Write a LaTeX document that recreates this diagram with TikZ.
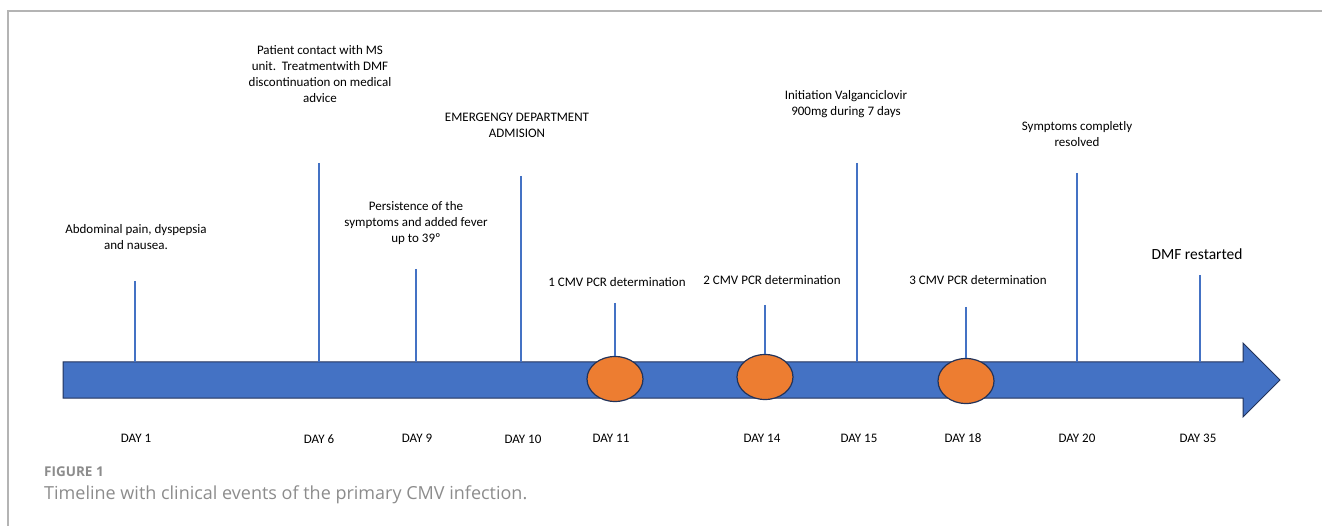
\documentclass[tikz,border=0pt]{standalone}
\usepackage{fontspec}
\setmainfont{Carlito}
\newfontfamily\capfont{Open Sans}
\usepackage{xcolor}
\usepackage{tikz}
\usetikzlibrary{shapes.geometric, positioning}
\definecolor{tlblue}{HTML}{4472C4}
\definecolor{tlorange}{HTML}{ED7D31}
\definecolor{tlnavy}{HTML}{22335A}
\definecolor{capgray}{HTML}{8C8C8C}
\definecolor{framegray}{HTML}{B4B4B4}
\tikzset{
    event/.style={align=center, inner sep=0pt, font=\fontsize{13}{16}\selectfont},
    daylabel/.style={inner sep=0pt, font=\fontsize{13}{16}\selectfont},
    tick/.style={draw=tlblue, line width=2.8pt},
    pcr/.style={ellipse, draw=tlnavy, fill=tlorange, line width=1.2pt, minimum width=56pt, minimum height=45pt, inner sep=0pt},
    timebar/.style={draw=tlnavy, fill=tlblue, line width=1pt}
}

\begin{document}
\begin{tikzpicture}[x=1pt, y=-1pt]
    \useasboundingbox (0,0) rectangle (1322,526);
    \draw [framegray, line width=2pt] (8,526) -- (8,11) -- (1322,11);

    % time axis
    \draw [timebar] (63,362) -- (1243,362) -- (1243,343) -- (1280,380) -- (1243,417) -- (1243,398) -- (63,398) -- cycle;
    \coordinate (axis) at (0,362);

    % tick tops
    \coordinate (top1) at (135,281);
    \coordinate (top6) at (319,163);
    \coordinate (top9) at (416,269);
    \coordinate (top10) at (521,176);
    \coordinate (top11) at (615,303);
    \coordinate (top14) at (765,305);
    \coordinate (top15) at (857,163);
    \coordinate (top18) at (966,307);
    \coordinate (top20) at (1077,173);
    \coordinate (top35) at (1200,275);

    \draw [tick] (top1) -- (top1 |- axis);
    \draw [tick] (top6) -- (top6 |- axis);
    \draw [tick] (top9) -- (top9 |- axis);
    \draw [tick] (top10) -- (top10 |- axis);
    \draw [tick] (top15) -- (top15 |- axis);
    \draw [tick] (top20) -- (top20 |- axis);
    \draw [tick] (top35) -- (top35 |- axis);

    % PCR determinations
    \node (pcr1) [pcr] at (615,379) {};
    \node (pcr2) [pcr] at (765,377) {};
    \node (pcr3) [pcr] at (966,381) {};
    \draw [tick] (top11) -- (pcr1.north);
    \draw [tick] (top14) -- (pcr2.north);
    \draw [tick] (top18) -- (pcr3.north);

    % events
    \node (abdo) [event] at (136,237) {Abdominal pain, dyspepsia\\and nausea.};
    \node (contact) [event] at (320,74) {Patient contact with MS\\unit.\ \ Treatmentwith DMF\\discontinuation on medical\\advice};
    \node (fever) [event] at (416,223) {Persistence of the\\symptoms and added fever\\up to 39º};
    \node (emerg) [event] at (517,125) {EMERGENGY DEPARTMENT\\ADMISION};
    \node (cmv1) [event] at (617,282) {1 CMV PCR determination};
    \node (cmv2) [event] at (772,280) {2 CMV PCR determination};
    \node (valg) [event] at (846,104) {Initiation Valganciclovir\\900mg during 7 days};
    \node (cmv3) [event] at (978,280) {3 CMV PCR determination};
    \node (resolved) [event] at (1077,134) {Symptoms completly\\resolved};
    \node (restart) [event, font=\fontsize{15.5}{18}\selectfont] at (1197,254) {DMF restarted};

    % days
    \node (day1) [daylabel] at (136,438) {DAY 1};
    \node (day6) [daylabel] at (319,439) {DAY 6};
    \node (day9) [daylabel] at (417,438) {DAY 9};
    \node (day10) [daylabel] at (523,439) {DAY 10};
    \node (day11) [daylabel] at (611,438) {DAY 11};
    \node (day14) [daylabel] at (762,438) {DAY 14};
    \node (day15) [daylabel] at (859,438) {DAY 15};
    \node (day18) [daylabel] at (963,438) {DAY 18};
    \node (day20) [daylabel] at (1077,438) {DAY 20};
    \node (day35) [daylabel] at (1198,438) {DAY 35};

    % caption
    \node (fig) [anchor=west, inner sep=0pt, text=capgray, font=\capfont\bfseries\fontsize{13.5}{16}\selectfont] at (44,472) {FIGURE 1};
    \node (cap) [anchor=west, inner sep=0pt, text=capgray, font=\capfont\fontsize{18}{21}\selectfont] at (44,495) {Timeline with clinical events of the primary CMV infection.};
\end{tikzpicture}
\end{document}
